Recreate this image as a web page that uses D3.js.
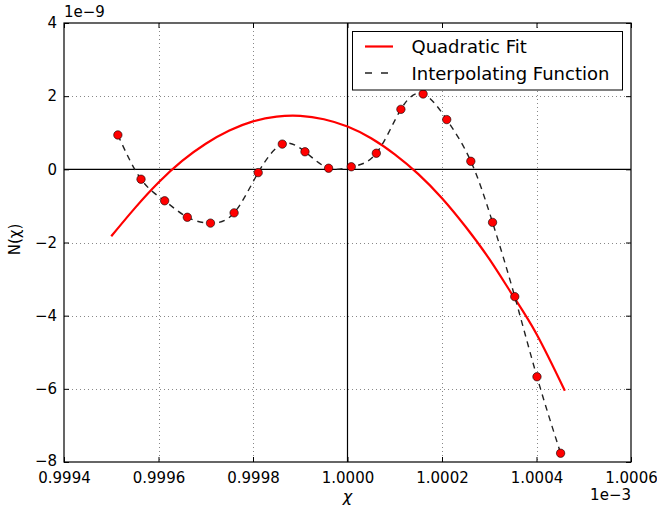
<!DOCTYPE html>
<html>
<head>
<meta charset="utf-8">
<script src="https://cdn.jsdelivr.net/npm/d3@7"></script>
<style>
  body { margin: 0; background: #fff; }
  #graf { width: 657px; height: 508px; }
  text { font-family: "DejaVu Sans", sans-serif; fill: #000; }
</style>
</head>
<body>
<div id="graf"></div>
<script>
// sample points (x in units of 1e-3, y in units of 1e-9)
const puntosX = [0.999514, 0.999563, 0.999613, 0.999661, 0.99971, 0.99976, 0.999811, 0.999862, 0.99991, 0.99996,
  1.000008, 1.000061, 1.000113, 1.00016, 1.00021, 1.000261, 1.000307, 1.000354, 1.000401, 1.000451];
const puntosY = [0.94, -0.27, -0.86, -1.31, -1.47, -1.19, -0.09, 0.69, 0.48, 0.03,
  0.07, 0.44, 1.64, 2.06, 1.36, 0.22, -1.45, -3.48, -5.67, -7.76];

// quadratic fit
const ajusteX = [0.9995, 0.99955, 0.9996, 0.99965, 0.9997, 0.99975, 0.9998, 0.99985, 0.9999, 0.99995,
  1.0, 1.00005, 1.0001, 1.00015, 1.0002, 1.00025, 1.0003, 1.00035, 1.0004, 1.00046];
const ajusteY = [-1.83, -1.06, -0.36, 0.23, 0.7, 1.06, 1.31, 1.44, 1.46, 1.37,
  1.17, 0.85, 0.41, -0.13, -0.79, -1.57, -2.45, -3.45, -4.5, -6.05];

const ticksX = [0.9994, 0.9996, 0.9998, 1.0, 1.0002, 1.0004, 1.0006];
const ticksY = [-8, -6, -4, -2, 0, 2, 4];

const ancho_total = 657;
const alto_total = 508;
const margins = { top: 23, left: 64, right: 26, bottom: 46 };
const ancho = ancho_total - margins.left - margins.right;
const alto = alto_total - margins.top - margins.bottom;

const svg = d3.select("#graf")
  .append("svg")
  .attr("width", ancho_total)
  .attr("height", alto_total)
  .append("g")
  .attr("transform", `translate(${margins.left}, ${margins.top})`);

const x = d3.scaleLinear().domain([0.9994, 1.0006]).range([0, ancho]);
const y = d3.scaleLinear().domain([-8, 4]).range([alto, 0]);

// grid
svg.append("g")
  .selectAll("line")
  .data(ticksX.slice(1, -1).filter((d) => d !== 1.0))
  .join("line")
  .attr("x1", (d) => Math.round(x(d)) + 0.5)
  .attr("x2", (d) => Math.round(x(d)) + 0.5)
  .attr("y1", 0)
  .attr("y2", alto)
  .attr("stroke", "#888")
  .attr("stroke-width", 1)
  .attr("stroke-dasharray", "1,3");

svg.append("g")
  .selectAll("line")
  .data(ticksY.slice(1, -1).filter((d) => d !== 0))
  .join("line")
  .attr("x1", 0)
  .attr("x2", ancho)
  .attr("y1", (d) => Math.round(y(d)) + 0.5)
  .attr("y2", (d) => Math.round(y(d)) + 0.5)
  .attr("stroke", "#888")
  .attr("stroke-width", 1)
  .attr("stroke-dasharray", "1,3");

// zero lines
svg.append("line")
  .attr("x1", 0).attr("x2", ancho)
  .attr("y1", y(0)).attr("y2", y(0))
  .attr("stroke", "#000").attr("stroke-width", 1.2);
svg.append("line")
  .attr("x1", x(1.0)).attr("x2", x(1.0))
  .attr("y1", 0).attr("y2", alto)
  .attr("stroke", "#000").attr("stroke-width", 1.2);

// axes, ticks pointing inward
const ejeAbajo = svg.append("g")
  .attr("transform", `translate(0,${alto})`)
  .call(d3.axisBottom(x).tickValues(ticksX).tickFormat(d3.format(".4f")).tickSizeInner(-5).tickSizeOuter(0).tickPadding(10));
const ejeArriba = svg.append("g")
  .call(d3.axisTop(x).tickValues(ticksX).tickFormat("").tickSizeInner(-5).tickSizeOuter(0));
const ejeIzq = svg.append("g")
  .call(d3.axisLeft(y).tickValues(ticksY).tickFormat(d3.format("d")).tickSizeInner(-5).tickSizeOuter(0).tickPadding(7));
const ejeDer = svg.append("g")
  .attr("transform", `translate(${ancho},0)`)
  .call(d3.axisRight(y).tickValues(ticksY).tickFormat("").tickSizeInner(-5).tickSizeOuter(0));

[ejeAbajo, ejeArriba, ejeIzq, ejeDer].forEach((g) => {
  g.select(".domain").remove();
  g.selectAll("line").attr("stroke", "#000");
  g.selectAll("text").style("font-size", "15px").style("font-family", "DejaVu Sans");
});
// lowest y label sits just above the x labels, as in the original
ejeIzq.selectAll("text").filter((d) => d === -8).attr("dy", "0.2em");

// frame
svg.append("rect")
  .attr("x", 0).attr("y", 0)
  .attr("width", ancho).attr("height", alto)
  .attr("fill", "none")
  .attr("stroke", "#000")
  .attr("stroke-width", 1.2);

// quadratic fit
const lineaAjuste = d3.line()
  .x((d, i) => x(ajusteX[i]))
  .y((d) => y(d))
  .curve(d3.curveNatural);
svg.append("path")
  .attr("d", lineaAjuste(ajusteY))
  .attr("fill", "none")
  .attr("stroke", "#ff0000")
  .attr("stroke-width", 2.2);

// interpolating function
const lineaInterp = d3.line()
  .x((d, i) => x(puntosX[i]))
  .y((d) => y(d))
  .curve(d3.curveNatural);
svg.append("path")
  .attr("d", lineaInterp(puntosY))
  .attr("fill", "none")
  .attr("stroke", "#222")
  .attr("stroke-width", 1.4)
  .attr("stroke-dasharray", "6,5");

svg.append("g")
  .selectAll("circle")
  .data(puntosY)
  .join("circle")
  .attr("cx", (d, i) => x(puntosX[i]))
  .attr("cy", (d) => y(d))
  .attr("r", 4.2)
  .attr("fill", "#ff0000")
  .attr("stroke", "#000")
  .attr("stroke-width", 0.6);

// offset labels
svg.append("text")
  .attr("x", 0).attr("y", -6)
  .style("font-size", "15px")
  .text("1e\u22129");
svg.append("text")
  .attr("x", ancho).attr("y", alto + 38)
  .attr("text-anchor", "end")
  .style("font-size", "15px")
  .text("1e\u22123");

// axis titles
svg.append("text")
  .attr("x", x(1.0)).attr("y", alto + 40)
  .attr("text-anchor", "middle")
  .style("font-size", "16px")
  .style("font-style", "italic")
  .text("\u03c7");
svg.append("text")
  .attr("transform", `translate(${-margins.left + 20}, ${y(-2) - 3}) rotate(-90)`)
  .attr("text-anchor", "middle")
  .style("font-size", "15px")
  .text("N(\u03c7)");

// legend
const leyenda = svg.append("g").attr("transform", `translate(${352.5 - margins.left}, ${31.5 - margins.top})`);
leyenda.append("rect")
  .attr("width", 270).attr("height", 58.5)
  .attr("fill", "#fff").attr("stroke", "#000").attr("stroke-width", 1);
leyenda.append("line")
  .attr("x1", 12.5).attr("x2", 40.5).attr("y1", 15).attr("y2", 15)
  .attr("stroke", "#ff0000").attr("stroke-width", 2.2);
leyenda.append("line")
  .attr("x1", 12.5).attr("x2", 40.5).attr("y1", 41.5).attr("y2", 41.5)
  .attr("stroke", "#222").attr("stroke-width", 1.4).attr("stroke-dasharray", "7,9");
leyenda.append("text")
  .attr("x", 59).attr("y", 21.5)
  .style("font-size", "18px")
  .text("Quadratic Fit");
leyenda.append("text")
  .attr("x", 59).attr("y", 48)
  .style("font-size", "18px")
  .text("Interpolating Function");
</script>
</body>
</html>
